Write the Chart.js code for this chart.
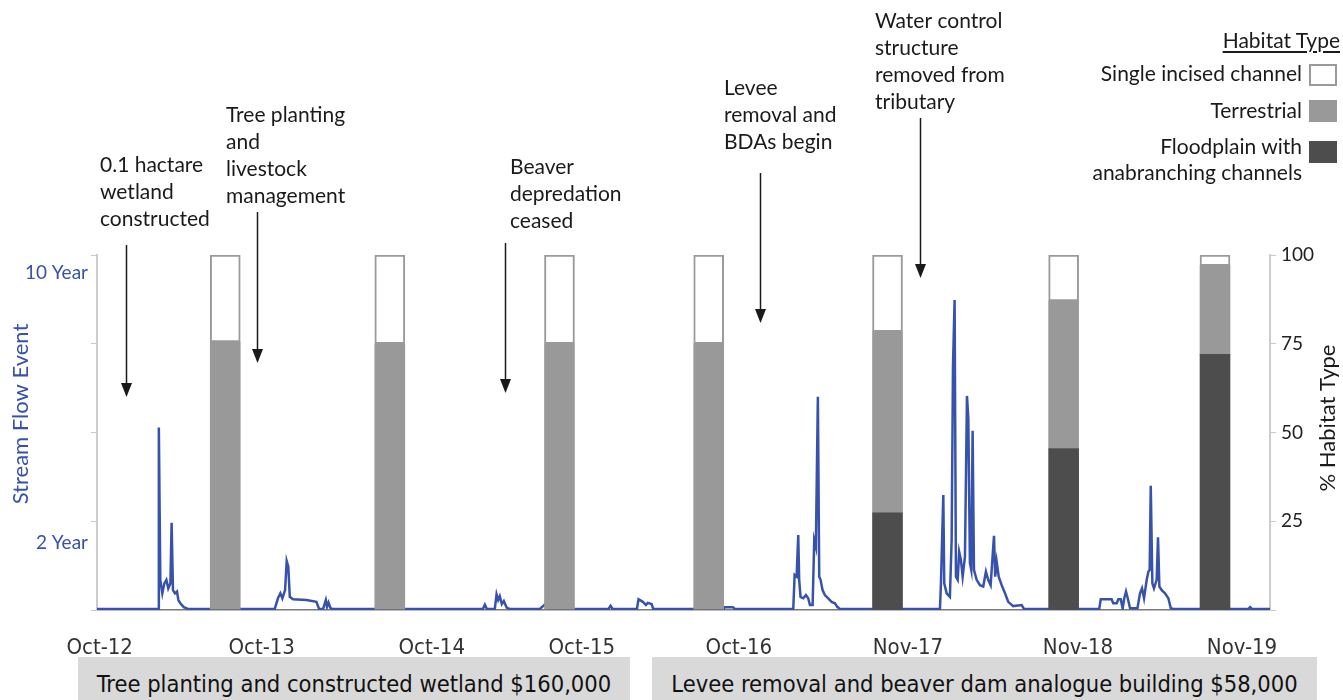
<!DOCTYPE html>
<html>
<head>
<meta charset="utf-8">
<script src="https://cdn.jsdelivr.net/npm/chart.js@4.4.1/dist/chart.umd.min.js"></script>
<style>
  body { margin: 0; background: #fff; }
  #wrap { position: relative; width: 1343px; height: 700px; overflow: hidden; font-family: Lato, "Noto Sans", sans-serif; color: #1a1a1a; }
  #chart { position: absolute; left: 0; top: 0; }
  .legend { position: absolute; right: 0; top: 0; width: 300px; font-size: 21px; }
  .legend .head { position: absolute; right: 3px; top: 27px; text-decoration: underline; text-underline-offset: 3px; }
  .legend .row { position: absolute; right: 41px; text-align: right; line-height: 26px; }
  .legend .box { position: absolute; right: 6px; width: 28px; height: 22px; box-sizing: border-box; }
  .cost { position: absolute; top: 657px; height: 50px; background: #d9d9d9; font-family: "DejaVu Sans Condensed", "DejaVu Sans", sans-serif; font-stretch: condensed; font-size: 23.5px; line-height: 54px; text-align: center; color: #111; }
</style>
</head>
<body>
<div id="wrap">
  <canvas id="chart" width="1343" height="700"></canvas>
  <div class="legend">
    <div class="head">Habitat Type</div>
    <div class="row" style="top:60px">Single incised channel</div>
    <div class="box" style="top:64px;background:#fff;border:2px solid #9a9a9a"></div>
    <div class="row" style="top:97px">Terrestrial</div>
    <div class="box" style="top:100px;background:#999"></div>
    <div class="row" style="top:133px">Floodplain with<br>anabranching channels</div>
    <div class="box" style="top:141px;background:#4d4d4d"></div>
  </div>
  <div class="cost" style="left:78px;width:552px">Tree planting and constructed wetland $160,000</div>
  <div class="cost" style="left:652px;width:665px">Levee removal and beaver dam analogue building $58,000</div>
</div>
<script>
// time axis: months since October 2012
var tickMonth = [0, 12.05, 24.7, 35.86, 47.54, 60.12, 72.77, 84.97];
var tickLabel = ["Oct-12", "Oct-13", "Oct-14", "Oct-15", "Oct-16", "Nov-17", "Nov-18", "Nov-19"];

// flow event scale ticks (left axis, same 0-100 height as habitat axis)
var flowTickValue = [0, 19, 25, 50, 75, 95, 100];
var flowTickLabel = {19: "2 Year", 95: "10 Year"};

// stream flow record
var flowMonth = [
  -0.2, 4.34, 4.40, 4.51, 4.66, 4.81, 4.96, 5.10, 5.26, 5.35, 5.45, 5.60, 5.75, 5.85, 6.00, 6.25, 6.57,
  13.02, 13.26, 13.44, 13.59, 13.79, 13.91, 14.03, 14.14, 14.38, 15.38, 16.12, 16.32, 16.62, 16.82, 16.91, 17.02, 17.17, 17.31,
  28.50, 28.65, 28.80, 29.39, 29.52, 29.64, 29.76, 29.91, 30.06, 30.28, 30.51, 32.74, 33.10, 33.40,
  37.85, 38.00, 38.15, 39.96, 40.08, 40.40, 40.63, 40.77, 41.05, 41.17, 46.40, 46.50, 47.10, 47.25,
  51.59, 51.69, 51.84, 51.96, 52.03, 52.13, 52.33, 52.53, 52.70, 52.83, 53.03, 53.15, 53.27, 53.42, 53.52, 53.62, 53.77, 53.94, 54.19, 54.44, 54.69, 54.86, 55.06,
  62.50, 62.57, 62.75, 62.82, 63.00, 63.24, 63.37, 63.47, 63.59, 63.69, 63.82, 63.93, 64.06, 64.19, 64.36, 64.51, 64.61, 64.73, 64.83, 64.93, 65.03, 65.23, 65.48, 65.72, 65.92, 66.09, 66.27, 66.52, 66.61, 66.72, 66.87, 67.09, 67.34, 67.58, 67.95, 68.58, 68.75,
  74.35, 74.46, 75.27, 75.39, 75.65, 75.77, 75.95, 76.09, 76.21, 76.34, 76.47, 76.64, 77.19, 77.38, 77.53, 77.68, 77.88, 78.00, 78.10, 78.18, 78.30, 78.42, 78.62, 78.72, 78.82, 79.00, 79.24, 79.49, 79.67, 79.86,
  85.45, 85.57, 85.70, 87.05
];
var flowLevel = [
  0.3, 0.3, 51.4, 8.5, 4.7, 7.5, 8.5, 6.1, 7.5, 24.6, 5.6, 4.7, 5.2, 2.8, 1.9, 0.8, 0.3,
  0.3, 3.3, 4.7, 3.3, 5.6, 13.8, 12.2, 3.7, 3.0, 2.8, 2.3, 0.3, 0.3, 2.8, 0.9, 2.1, 0.5, 0.3,
  0.3, 1.5, 0.3, 0.3, 4.4, 2.8, 3.9, 1.7, 2.5, 0.6, 0.3, 0.3, 1.5, 0.3,
  0.3, 1.2, 0.3, 0.3, 3.0, 2.3, 1.4, 2.0, 1.7, 0.3, 0.3, 0.8, 0.8, 0.3,
  0.3, 9.9, 9.4, 21.1, 8.5, 3.7, 3.3, 4.2, 3.3, 1.4, 1.4, 19.7, 17.8, 60.1, 9.4, 8.5, 5.6, 4.2, 3.3, 2.3, 1.9, 0.9, 0.3,
  0.3, 7.0, 32.4, 7.5, 4.7, 3.7, 19.7, 68.5, 87.3, 9.4, 8.5, 16.4, 14.1, 9.4, 15.0, 60.3, 54.0, 13.2, 11.3, 50.5, 11.3, 8.5, 7.0, 6.6, 10.8, 8.5, 7.0, 20.9, 9.4, 13.6, 9.4, 7.0, 4.7, 2.3, 1.1, 1.4, 0.3,
  0.3, 3.0, 3.0, 1.9, 1.9, 3.0, 3.0, 0.4, 3.3, 5.2, 3.3, 0.5, 0.5, 4.7, 6.1, 3.3, 8.5, 10.8, 11.3, 35.0, 7.5, 6.1, 8.5, 20.5, 6.6, 5.6, 4.7, 3.3, 0.5, 0.3,
  0.3, 0.8, 0.3, 0.3
];

// habitat surveys (% of area)
var surveyMonth = [9.34, 21.58, 34.2, 45.3, 58.6, 71.7, 82.96];
var floodplain = [0, 0, 0, 0, 27.4, 45.5, 72];
var terrestrial = [75.5, 75, 75, 75, 51, 41.6, 25];
var incised = [24.5, 25, 25, 25, 21.6, 12.9, 3];

// timeline notes
var noteText = [
  ["0.1 hactare", "wetland", "constructed"],
  ["Tree planting", "and", "livestock", "management"],
  ["Beaver", "depredation", "ceased"],
  ["Levee", "removal and", "BDAs begin"],
  ["Water control", "structure", "removed from", "tributary"]
];
var noteMonth = [1.93, 11.68, 30.13, 49.1, 61.0];

var notePlace = [
  {left: 100, top: 165, from: 245, tip: 397},
  {left: 226, top: 115, from: 212, tip: 363},
  {left: 510, top: 167, from: 243, tip: 393},
  {left: 724, top: 88, from: 173, tip: 323},
  {left: 875, top: 21, from: 118, tip: 278}
];

var blue = '#3752ad';
var textFont = 'Lato, "Noto Sans", sans-serif';

function pts(xs, ys) {
  return xs.map(function (x, i) { return {x: x, y: ys[i]}; });
}

var notesPlugin = {
  id: 'notes',
  afterDraw: function (chart) {
    var ctx = chart.ctx, xs = chart.scales.x;
    ctx.save();
    ctx.font = '21px ' + textFont;
    ctx.fillStyle = '#1a1a1a';
    ctx.strokeStyle = '#1a1a1a';
    ctx.textBaseline = 'middle';
    ctx.textAlign = 'left';
    noteText.forEach(function (lines, i) {
      var p = notePlace[i];
      lines.forEach(function (s, j) { ctx.fillText(s, p.left, p.top + j * 27); });
      var ax = Math.round(xs.getPixelForValue(noteMonth[i])) + 0.5;
      ctx.lineWidth = 1.5;
      ctx.beginPath();
      ctx.moveTo(ax, p.from);
      ctx.lineTo(ax, p.tip - 10);
      ctx.stroke();
      ctx.beginPath();
      ctx.moveTo(ax - 5.5, p.tip - 14);
      ctx.lineTo(ax + 5.5, p.tip - 14);
      ctx.lineTo(ax, p.tip);
      ctx.closePath();
      ctx.fill();
    });
    // axis titles
    ctx.font = '22px ' + textFont;
    ctx.textAlign = 'center';
    ctx.save();
    ctx.translate(21, 414);
    ctx.rotate(-Math.PI / 2);
    ctx.fillStyle = blue;
    ctx.fillText('Stream Flow Event', 0, 0);
    ctx.restore();
    ctx.save();
    ctx.translate(1328, 418);
    ctx.rotate(-Math.PI / 2);
    ctx.fillStyle = '#1a1a1a';
    ctx.fillText('% Habitat Type', 0, 0);
    ctx.restore();
    ctx.restore();
  }
};

new Chart(document.getElementById('chart').getContext('2d'), {
  type: 'bar',
  data: {
    datasets: [{
      label: 'Floodplain with anabranching channels',
      data: pts(surveyMonth, floodplain),
      backgroundColor: '#4d4d4d',
      borderWidth: 0,
      yAxisID: 'y1',
      order: 0
    }, {
      label: 'Terrestrial',
      data: pts(surveyMonth, terrestrial),
      backgroundColor: '#999999',
      borderWidth: 0,
      yAxisID: 'y1',
      order: 0
    }, {
      label: 'Single incised channel',
      data: pts(surveyMonth, incised),
      backgroundColor: '#ffffff',
      borderColor: '#9a9a9a',
      borderWidth: 2,
      borderSkipped: false,
      yAxisID: 'y1',
      order: 0
    }, {
      type: 'line',
      label: 'Stream flow',
      data: pts(flowMonth, flowLevel),
      borderColor: blue,
      borderWidth: 2.5,
      pointRadius: 0,
      tension: 0,
      yAxisID: 'y',
      order: 1
    }]
  },
  options: {
    responsive: false,
    animation: false,
    barThickness: 30,
    layout: { padding: { top: 255, left: 0, right: 0, bottom: 0 } },
    plugins: { legend: { display: false }, tooltip: { enabled: false }, title: { display: false } },
    scales: {
      x: {
        type: 'linear',
        offset: false,
        stacked: true,
        min: -0.2,
        max: 87.05,
        afterBuildTicks: function (s) { s.ticks = tickMonth.map(function (v) { return {value: v}; }); },
        afterFit: function (s) { s.height = 90; },
        grid: { display: false, offset: false },
        border: { display: true, color: '#7a7a7a', width: 1.5 },
        ticks: {
          autoSkip: false,
          maxRotation: 0,
          padding: 17,
          color: '#333',
          font: { family: '"DejaVu Sans Condensed", "DejaVu Sans", sans-serif', size: 22 },
          callback: function (v, i) { return tickLabel[i]; }
        }
      },
      y: {
        position: 'left',
        min: 0,
        max: 100,
        afterBuildTicks: function (s) { s.ticks = flowTickValue.map(function (v) { return {value: v}; }); },
        afterFit: function (s) { s.width = 97; },
        grid: {
          drawOnChartArea: false,
          tickLength: 6,
          color: function (c) { return flowTickLabel[c.tick.value] ? 'rgba(0,0,0,0)' : '#c8c8c8'; }
        },
        border: { display: true, color: '#cccccc', width: 2 },
        ticks: {
          autoSkip: false,
          padding: 3,
          color: blue,
          font: { family: textFont, size: 19 },
          callback: function (v) { return flowTickLabel[v] || ''; }
        }
      },
      y1: {
        position: 'right',
        stacked: true,
        min: 0,
        max: 100,
        afterBuildTicks: function (s) { s.ticks = [0, 25, 50, 75, 100].map(function (v) { return {value: v}; }); },
        afterFit: function (s) { s.width = 73; },
        grid: { drawOnChartArea: false, tickLength: 6, color: '#c8c8c8' },
        border: { display: true, color: '#cccccc', width: 2 },
        ticks: {
          padding: 5,
          color: '#222',
          font: { family: textFont, size: 19 },
          callback: function (v) { return v === 0 ? '' : v; }
        }
      }
    }
  },
  plugins: [notesPlugin]
});
</script>
</body>
</html>
